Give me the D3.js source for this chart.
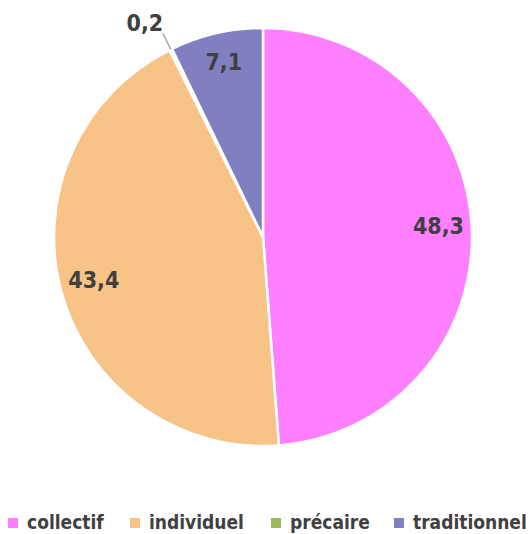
<!DOCTYPE html>
<html>
<head>
<meta charset="utf-8">
<script src="https://cdn.jsdelivr.net/npm/d3@7"></script>
<style>
  body { margin: 0; background: #fff; }
  svg text { font-family: "DejaVu Sans Condensed", "DejaVu Sans", sans-serif; font-weight: bold; fill: #404040; }
</style>
</head>
<body>
<div id="chart"></div>
<script>
const categories = ["collectif", "individuel", "précaire", "traditionnel"];
const values = [48.3, 43.4, 0.2, 7.1];
const labels = ["48,3", "43,4", "0,2", "7,1"];
const colors = ["#FF80FF", "#F8C387", "#9BBB59", "#8080C0"];

const width = 528, height = 534;
const cx = 263, cy = 237, radius = 209;

const svg = d3.select("#chart").append("svg")
  .attr("width", width)
  .attr("height", height);

const g = svg.append("g").attr("transform", `translate(${cx},${cy})`);

const data = categories.map((c, i) => ({ key: c, value: values[i], label: labels[i], color: colors[i] }));
const pie = d3.pie().sort(null).value(d => d.value);
const arcs = pie(data);

const arc = d3.arc().innerRadius(0).outerRadius(radius);
const labelArc = d3.arc().innerRadius(radius * 0.84).outerRadius(radius * 0.84);

g.selectAll("path.slice")
  .data(arcs)
  .enter()
  .append("path")
  .attr("class", "slice")
  .attr("d", arc)
  .attr("fill", d => d.data.color)
  .attr("stroke", "white")
  .attr("stroke-width", 2.5);

// inside labels; the tiny slice gets its label outside with a leader line
arcs.forEach(d => {
  const mid = (d.startAngle + d.endAngle) / 2;
  if (d.data.value < 1) {
    const p0 = [Math.sin(mid) * radius, -Math.cos(mid) * radius];
    const p1 = [Math.sin(mid) * (radius + 18), -Math.cos(mid) * (radius + 18)];
    g.append("line")
      .attr("x1", p0[0]).attr("y1", p0[1])
      .attr("x2", p1[0]).attr("y2", p1[1])
      .attr("stroke", "#A6A6A6")
      .attr("stroke-width", 1.5);
    g.append("text")
      .attr("x", p1[0] - 18)
      .attr("y", p1[1] - 10)
      .attr("text-anchor", "middle")
      .attr("dominant-baseline", "central")
      .style("font-size", "23px")
      .text(d.data.label);
  } else {
    const pos = labelArc.centroid(d);
    g.append("text")
      .attr("x", pos[0])
      .attr("y", pos[1] - 4)
      .attr("text-anchor", "middle")
      .attr("dominant-baseline", "central")
      .style("font-size", "23px")
      .text(d.data.label);
  }
});

// legend
const legendX = [8, 130, 271, 394];
const legend = svg.append("g").attr("transform", "translate(0,529)");
data.forEach((d, i) => {
  legend.append("rect")
    .attr("x", legendX[i])
    .attr("y", -11)
    .attr("width", 10)
    .attr("height", 10)
    .attr("fill", d.color);
  legend.append("text")
    .attr("x", legendX[i] + 19)
    .attr("y", 0)
    .style("font-size", "19px")
    .text(d.key);
});
</script>
</body>
</html>
